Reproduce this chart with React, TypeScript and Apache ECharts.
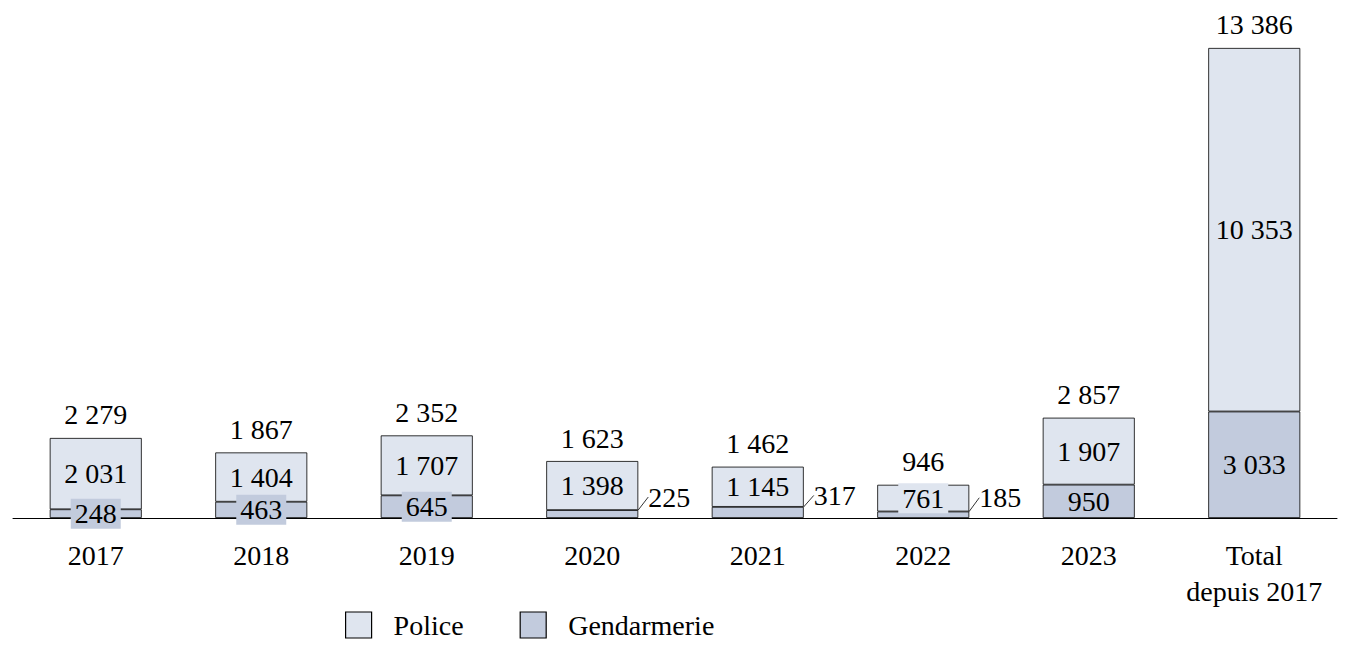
import React, { useEffect, useRef } from "react";
import * as echarts from "echarts";

const categories = ["2017", "2018", "2019", "2020", "2021", "2022", "2023", "Total\ndepuis 2017"];
const gendarmerie = [248, 463, 645, 225, 317, 185, 950, 3033];
const police = [2031, 1404, 1707, 1398, 1145, 761, 1907, 10353];
const totals = [2279, 1867, 2352, 1623, 1462, 946, 2857, 13386];
const outsideGendIdx = [3, 4, 5];

const POLICE_C = "#dfe5ef";
const GEND_C = "#c2cbdd";
const FONT = "Liberation Serif";
const FS = 28;

const fmt = (v: number) => String(v).replace(/\B(?=(\d{3})+(?!\d))/g, "\u00a0");

export default function App() {
  const ref = useRef<HTMLDivElement>(null);
  useEffect(() => {
    const chart = echarts.init(ref.current!, null, { renderer: "svg" });
    chart.setOption({
      animation: false,
      textStyle: { fontFamily: FONT, color: "#000" },
      grid: { left: 13, right: 14, top: 26.4, bottom: 143, containLabel: false },
      legend: {
        left: 340,
        top: 606,
        itemWidth: 26,
        itemHeight: 26,
        itemGap: 56,
        icon: "rect",
        itemStyle: { borderColor: "#000", borderWidth: 1.2 },
        textStyle: { fontFamily: FONT, fontSize: FS, color: "#000", padding: [0, 0, 0, 17] },
        data: ["Police", "Gendarmerie"],
      },
      xAxis: {
        type: "category",
        data: categories,
        axisTick: { show: false },
        axisLine: { lineStyle: { color: "#000", width: 1 } },
        axisLabel: { color: "#000", fontFamily: FONT, fontSize: FS, margin: 19, lineHeight: 36, interval: 0 },
      },
      yAxis: { type: "value", min: 0, max: 14000, show: false, splitLine: { show: false } },
      series: [
        {
          name: "Gendarmerie",
          type: "bar",
          stack: "a",
          barWidth: 92,
          data: gendarmerie.map((v, i) =>
            outsideGendIdx.includes(i)
              ? {
                  value: v,
                  label: { position: "right", distance: 10, backgroundColor: "transparent", padding: 0 },
                  labelLine: { show: true, lineStyle: { color: "#000", width: 0.8 } },
                }
              : { value: v }
          ),
          itemStyle: { color: GEND_C, borderColor: "#000", borderWidth: 0.8 },
          label: {
            show: true,
            position: "inside",
            color: "#000",
            fontFamily: FONT,
            fontSize: FS,
            backgroundColor: GEND_C,
            padding: [2, 4, 0, 4],
            formatter: (p: any) => fmt(p.value),
          },
          labelLayout: (p: any) =>
            outsideGendIdx.includes(p.dataIndex) ? { dy: -17 } : {},
        },
        {
          name: "Police",
          type: "bar",
          stack: "a",
          barWidth: 92,
          data: police.map((v, i) => ({
            value: v,
            label: i === 5 ? { backgroundColor: POLICE_C, padding: [2, 4, 0, 4] } : {},
          })),
          itemStyle: { color: POLICE_C, borderColor: "#000", borderWidth: 0.8 },
          label: {
            show: true,
            position: "inside",
            color: "#000",
            fontFamily: FONT,
            fontSize: FS,
            formatter: (p: any) => fmt(p.value),
          },
        },
        {
          name: "Total",
          type: "bar",
          stack: "a",
          barWidth: 92,
          data: totals.map(() => 0),
          itemStyle: { color: "transparent", borderWidth: 0 },
          label: {
            show: true,
            position: "top",
            distance: 9,
            color: "#000",
            fontFamily: FONT,
            fontSize: FS,
            formatter: (p: any) => fmt(totals[p.dataIndex]),
          },
        },
      ],
    });
    return () => chart.dispose();
  }, []);
  return (
    <div
      ref={ref}
      style={{ position: "fixed", left: 0, top: 0, width: 1351, height: 661, background: "#fff" }}
    />
  );
}
